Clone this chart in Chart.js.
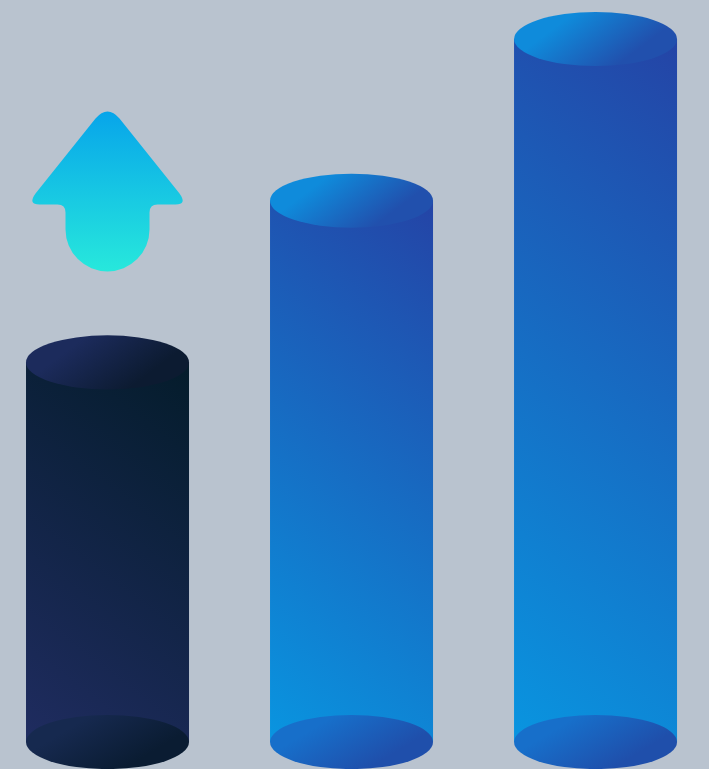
<!DOCTYPE html>
<html>
<head>
    <title>Cylinder Growth Chart</title>
    <script src="https://cdn.jsdelivr.net/npm/chart.js@4.4.0/dist/chart.umd.min.js"></script>
    <style>
        html, body {
            margin: 0;
            padding: 0;
            background: #b9c3cf;
            overflow: hidden;
        }
        .container {
            width: 709px;
            height: 769px;
        }
    </style>
</head>
<body>
    <div class="container">
        <canvas id="growthChart" width="709" height="769"></canvas>
    </div>
    <script>
        // chart data
        const positions = [0, 1, 2];
        const values = [54, 77, 100];
        const darkBar = {
            body: ["#1f2c60", "#041c2b"],
            top: ["#1c2b5c", "#0c1b31"],
            bottom: ["#16294f", "#0a1c32"]
        };
        const blueBar = {
            body: ["#0995e0", "#2444a6"],
            top: ["#0f8bdb", "#2150ad"],
            bottom: ["#176fca", "#1f4fab"]
        };
        const barStyles = [darkBar, blueBar, blueBar];

        // draws each bar as a cylinder using the bar element geometry
        const cylinderPlugin = {
            id: "cylinders",
            afterDatasetsDraw(chart) {
                const ctx = chart.ctx;
                const meta = chart.getDatasetMeta(0);
                meta.data.forEach(function (bar, i) {
                    const style = barStyles[i];
                    const w = bar.width;
                    const left = bar.x - w / 2;
                    const ry = w * 0.166;
                    const top = bar.y;
                    const base = bar.base;
                    const h = base - top;

                    // body, diagonal gradient bottom-left to top-right
                    const dx = 1, dy = 1.3;
                    const k = (dx * w + dy * h) / (dx * dx + dy * dy);
                    let g = ctx.createLinearGradient(left, base, left + dx * k, base - dy * k);
                    g.addColorStop(0, style.body[0]);
                    g.addColorStop(1, style.body[1]);
                    ctx.fillStyle = g;
                    ctx.fillRect(left, top, w, h);

                    // bottom ellipse
                    g = ctx.createLinearGradient(bar.x - w / 10, base - ry, bar.x + w / 10, base + ry);
                    g.addColorStop(0, style.bottom[0]);
                    g.addColorStop(1, style.bottom[1]);
                    ctx.fillStyle = g;
                    ctx.beginPath();
                    ctx.ellipse(bar.x, base, w / 2, ry, 0, 0, Math.PI * 2);
                    ctx.fill();

                    // top ellipse
                    g = ctx.createLinearGradient(bar.x - w / 8, top - ry, bar.x + w / 8, top + ry);
                    g.addColorStop(0, style.top[0]);
                    g.addColorStop(1, style.top[1]);
                    ctx.fillStyle = g;
                    ctx.beginPath();
                    ctx.ellipse(bar.x, top, w / 2, ry, 0, 0, Math.PI * 2);
                    ctx.fill();
                });

                // arrow above the first bar
                const first = meta.data[0];
                const s = first.width / 163;
                drawArrow(ctx, first.x, first.y - 251 * s, s);
            }
        };

        function drawArrow(ctx, cx, tipY, s) {
            ctx.save();
            ctx.translate(cx, tipY);
            ctx.scale(s, s);
            const g = ctx.createLinearGradient(0, 0, 0, 160);
            g.addColorStop(0, "#07a5ea");
            g.addColorStop(1, "#27e8dc");
            ctx.fillStyle = g;
            ctx.beginPath();
            ctx.moveTo(-12, 7);
            ctx.quadraticCurveTo(0, -7, 12, 7);
            ctx.lineTo(72, 82);
            ctx.quadraticCurveTo(80, 93, 68, 93);
            ctx.lineTo(50, 93);
            ctx.quadraticCurveTo(42, 93, 42, 101);
            ctx.lineTo(42, 118);
            ctx.arc(0, 118, 42, 0, Math.PI, false);
            ctx.lineTo(-42, 101);
            ctx.quadraticCurveTo(-42, 93, -50, 93);
            ctx.lineTo(-68, 93);
            ctx.quadraticCurveTo(-80, 93, -72, 82);
            ctx.closePath();
            ctx.fill();
            ctx.restore();
        }

        const ctx = document.getElementById("growthChart").getContext("2d");
        new Chart(ctx, {
            type: "bar",
            data: {
                labels: positions,
                datasets: [
                    {
                        data: positions.map(function (p, i) { return { x: p, y: values[i] }; }),
                        backgroundColor: "rgba(0,0,0,0)",
                        barThickness: 163
                    }
                ]
            },
            options: {
                responsive: false,
                animation: false,
                layout: { padding: 0 },
                plugins: {
                    legend: { display: false },
                    tooltip: { enabled: false }
                },
                scales: {
                    x: {
                        type: "linear",
                        display: false,
                        offset: false,
                        min: -0.4406,
                        max: 2.465
                    },
                    y: {
                        display: false,
                        min: -3.84,
                        max: 105.55
                    }
                }
            },
            plugins: [cylinderPlugin]
        });
    </script>
</body>
</html>
